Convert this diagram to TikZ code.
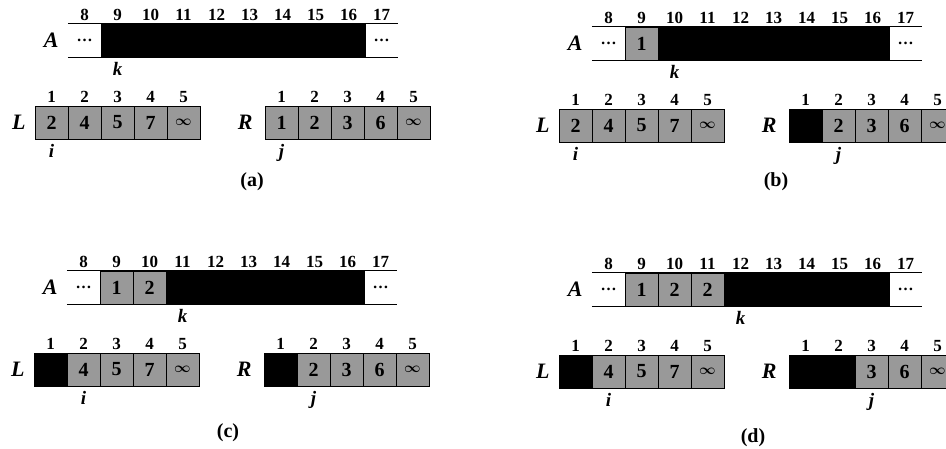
\documentclass[tikz,border=0pt]{standalone}
\usepackage{fontspec}
\setmainfont{Liberation Serif}
\usepackage{amsmath}
\usepackage{tikz}
\usetikzlibrary{calc}

\begin{document}
\begin{tikzpicture}[x=1pt,y=-1pt,
    graycell/.style={draw=black,line width=0.7pt,fill=black!40,minimum width=33pt,minimum height=33pt,
      inner sep=0pt,font=\fontsize{20}{20}\selectfont\bfseries},
    blackcell/.style={graycell,fill=black},
    dotcell/.style={minimum width=33pt,minimum height=33pt,inner sep=0pt,font=\fontsize{16}{16}\selectfont\bfseries},
    idx/.style={anchor=base,inner sep=0pt,yshift=3.5pt,font=\fontsize{17}{17}\selectfont\bfseries},
    arrname/.style={anchor=east,inner sep=0pt,xshift=-9pt,font=\fontsize{22}{22}\selectfont\bfseries\itshape},
    ptr/.style={anchor=north,inner sep=0pt,yshift=-5pt,font=\fontsize{19}{19}\selectfont\bfseries\itshape},
    caption/.style={inner sep=0pt,font=\fontsize{20}{20}\selectfont\bfseries}]
    % page of 946 x 448 px, 1px = 1pt, y runs downwards
    \useasboundingbox (0,0) rectangle (946,448);
    \clip (0,0) rectangle (946,448);
    % one panel per step: name / shift / copied into A / used from L / used from R / caption
    \foreach \p/\sx/\sy/\na/\nl/\nr/\cx/\cy in {a/0/0/0/0/0/252/182, b/524/3/1/0/1/252/179,
        c/-1/247/2/1/1/229/186, d/524/249/3/1/2/229/189}{
      \begin{scope}[shift={(\sx,\sy)}]
        % array A, cells 8..17
        \foreach \c in {8,...,17}{
          \ifnum\c=8 \def\st{dotcell}\def\tx{\raisebox{-3pt}{\dots}}%
          \else\ifnum\c=17 \def\st{dotcell}\def\tx{\raisebox{-3pt}{\dots}}%
          \else\ifnum\c>\numexpr8+\na\relax \def\st{blackcell}\def\tx{}%
          \else \def\st{graycell}\ifnum\c=9 \def\tx{1}\else\def\tx{2}\fi
          \fi\fi\fi
          \node[\st] (\p-A\c) at ({84.5+33*(\c-8)},40.5) {\tx};
          \node[idx] (\p-iA\c) at (\p-A\c.north) {\c};
        }
        \draw[line width=1pt] (\p-A8.north west) -- (\p-A17.north east);
        \draw[line width=1pt] (\p-A8.south west) -- (\p-A17.south east);
        \node[arrname] (\p-nA) at (\p-A8.west) {A};
        \pgfmathtruncatemacro\kc{9+\na}
        \node[ptr] (\p-k) at (\p-A\kc.south) {k};
        % arrays L and R
        \foreach \c/\v in {1/2,2/4,3/5,4/7,5/{\fontsize{14}{14}\selectfont$\boldsymbol{\infty}$}}{
          \ifnum\c>\nl \def\st{graycell}\def\tx{\v}\else\def\st{blackcell}\def\tx{}\fi
          \node[\st] (\p-L\c) at ({51.5+33*(\c-1)},122.5) {\tx};
          \node[idx] (\p-iL\c) at (\p-L\c.north) {\c};
        }
        \foreach \c/\v in {1/1,2/2,3/3,4/6,5/{\fontsize{14}{14}\selectfont$\boldsymbol{\infty}$}}{
          \ifnum\c>\nr \def\st{graycell}\def\tx{\v}\else\def\st{blackcell}\def\tx{}\fi
          \node[\st] (\p-R\c) at ({281.5+33*(\c-1)},122.5) {\tx};
          \node[idx] (\p-iR\c) at (\p-R\c.north) {\c};
        }
        \node[arrname] (\p-nL) at (\p-L1.west) {L};
        \node[arrname,xshift=-3pt] (\p-nR) at (\p-R1.west) {R};
        \pgfmathtruncatemacro\ic{\nl+1}
        \pgfmathtruncatemacro\jc{\nr+1}
        \node[ptr] (\p-i) at (\p-L\ic.south) {i};
        \node[ptr] (\p-j) at (\p-R\jc.south) {j};
        \node[caption] (\p-cap) at (\cx,\cy) {(\p)};
      \end{scope}
    }
\end{tikzpicture}
\end{document}
